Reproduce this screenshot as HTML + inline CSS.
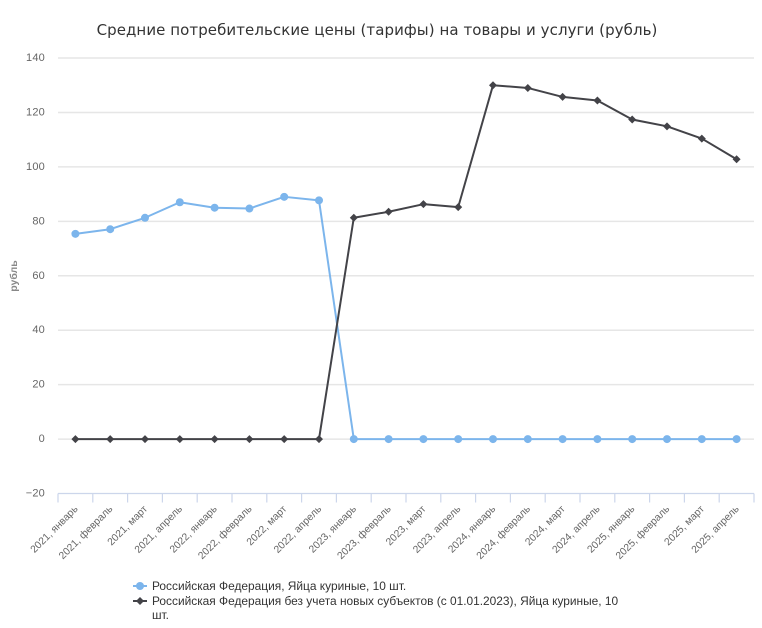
<!DOCTYPE html>
<html lang="ru">
<head>
<meta charset="utf-8">
<title>Средние потребительские цены</title>
<style>
html,body{margin:0;padding:0;background:#fff;}
svg{display:block;font-family:"Liberation Sans",sans-serif;}
</style>
</head>
<body>
<svg id="chart" width="762" height="628" viewBox="0 0 762 628" xmlns="http://www.w3.org/2000/svg">
<rect width="762" height="628" fill="#fff"/>
<text x="377" y="35" text-anchor="middle" font-family="'DejaVu Sans',sans-serif" font-size="15" fill="#333" letter-spacing="0.07">Средние потребительские цены (тарифы) на товары и услуги (рубль)</text>
<text transform="translate(17,276) rotate(-90)" text-anchor="middle" font-size="10.5" font-weight="bold" fill="#888">рубль</text>
<g id="grid"></g>
<g id="xaxis"></g>
<g id="series"></g>
<g>
<g>
<line x1="133" x2="147" y1="586" y2="586" stroke="#7cb5ec" stroke-width="2"/>
<circle cx="140" cy="586" r="4" fill="#7cb5ec"/>
<text x="152" y="590" font-size="11.92" fill="#333">Российская Федерация, Яйца куриные, 10 шт.</text>
</g>
<g>
<line x1="133" x2="147" y1="601" y2="601" stroke="#434348" stroke-width="2"/>
<path d="M140 597 L144 601 L140 605 L136 601 Z" fill="#434348"/>
<text x="152" y="605" font-size="11.92" fill="#333">Российская Федерация без учета новых субъектов (с 01.01.2023), Яйца куриные, 10</text>
<text x="152" y="619" font-size="11.92" fill="#333">шт.</text>
</g>
</g>
</svg>
<script>
const categories = ["2021, январь","2021, февраль","2021, март","2021, апрель","2022, январь","2022, февраль","2022, март","2022, апрель","2023, январь","2023, февраль","2023, март","2023, апрель","2024, январь","2024, февраль","2024, март","2024, апрель","2025, январь","2025, февраль","2025, март","2025, апрель"];
const seriesRF = [75.4,77.1,81.3,87,85,84.7,89,87.7,0,0,0,0,0,0,0,0,0,0,0,0];
const seriesExclNew = [0,0,0,0,0,0,0,0,81.3,83.5,86.3,85.2,130,129,125.7,124.4,117.4,114.9,110.4,102.8];
const yTicks = [140,120,100,80,60,40,20,0,-20];

const NS = "http://www.w3.org/2000/svg";
const plotLeft = 58, plotRight = 754, plotTop = 58, plotBottom = 493.5;
const yMax = 140, yMin = -20;
function xScale(i){ return plotLeft + (plotRight - plotLeft) * (i + 0.5) / categories.length; }
function yScale(v){ return plotTop + (yMax - v) * (plotBottom - plotTop) / (yMax - yMin); }
function make(tag, attrs, parent){
  const el = document.createElementNS(NS, tag);
  for (const k in attrs) el.setAttribute(k, attrs[k]);
  parent.appendChild(el);
  return el;
}
const grid = document.getElementById("grid");
yTicks.forEach(function(t){
  const y = yScale(t);
  if (t !== yMin) {
    const g = make("line", {x1:plotLeft, x2:plotRight, y1:y, y2:y, stroke:"#e6e6e6", "stroke-width":1.5}, grid);
    
    
  }
  const l = make("text", {x:45, y:y + 3, "text-anchor":"end", "font-size":"11", fill:"#666", "letter-spacing":"0.2"}, grid);
  
  
  l.textContent = String(t).replace("-", "\u2212");
});
const xaxis = document.getElementById("xaxis");
const axisLine = make("line", {x1:plotLeft, x2:plotRight, y1:plotBottom, y2:plotBottom, stroke:"#ccd6eb", "stroke-width":1.2}, xaxis);


for (let i = 0; i <= categories.length; i++) {
  const x = plotLeft + (plotRight - plotLeft) * i / categories.length;
  const tick = make("line", {x1:x, x2:x, y1:plotBottom, y2:plotBottom + 9, stroke:"#ccd6eb", "stroke-width":1.2}, xaxis);
  
  
}
categories.forEach(function(c, i){
  const x = xScale(i) + 3, y = plotBottom + 16;
  const t = make("text", {transform:"translate(" + x + "," + y + ") rotate(-45)", "text-anchor":"end", "font-size":"10.3", fill:"#666"}, xaxis);
  
  
  t.textContent = c;
});
const series = document.getElementById("series");
function linePath(vals){
  return vals.map(function(v, i){ return (i ? "L" : "M") + xScale(i) + " " + yScale(v); }).join(" ");
}
const blueLine = make("path", {d:linePath(seriesRF), fill:"none", stroke:"#7cb5ec", "stroke-width":2, "stroke-linejoin":"round"}, series);


seriesRF.forEach(function(v, i){
  const c = make("circle", {cx:xScale(i), cy:yScale(v), r:4, fill:"#7cb5ec"}, series);
  
  
});
const darkLine = make("path", {d:linePath(seriesExclNew), fill:"none", stroke:"#434348", "stroke-width":2, "stroke-linejoin":"round"}, series);


seriesExclNew.forEach(function(v, i){
  const x = xScale(i), y = yScale(v);
  const p = make("path", {d:"M" + x + " " + (y - 4) + " L" + (x + 4) + " " + y + " L" + x + " " + (y + 4) + " L" + (x - 4) + " " + y + " Z", fill:"#434348"}, series);
  
  
});
</script>
</body>
</html>
